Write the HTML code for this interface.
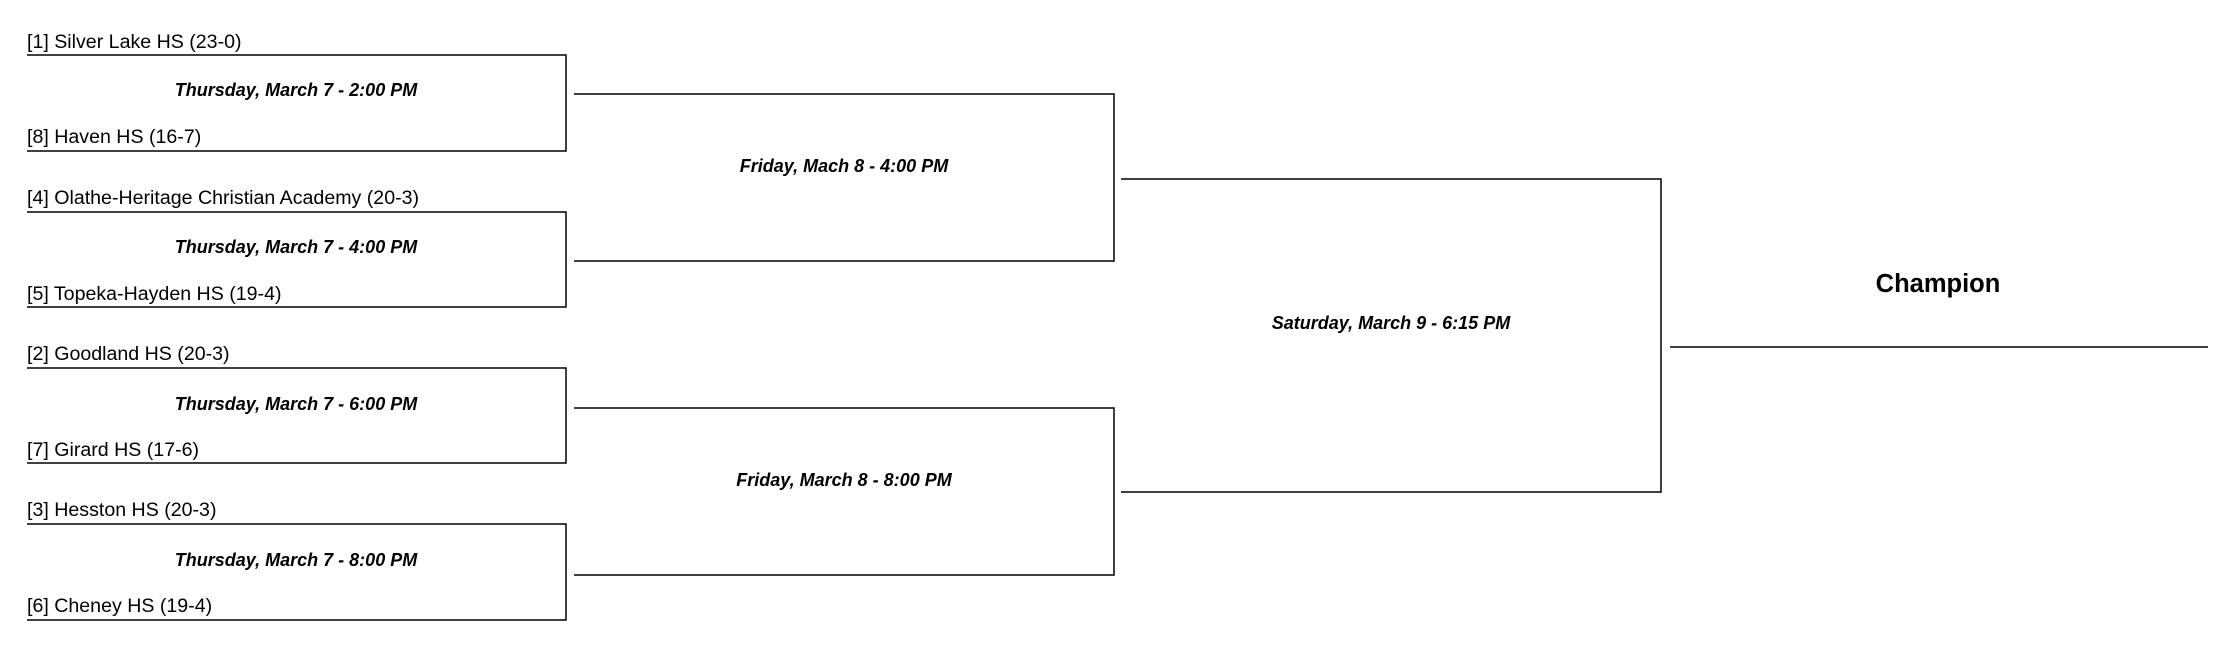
<!DOCTYPE html>
<html><head><style>
body{margin:0;background:#fff;width:2228px;height:646px;overflow:hidden}
svg{display:block}
text{font-family:"Liberation Sans",Arial,sans-serif;fill:#000}
.t{font-size:19.6px}
.d{font-size:18px;font-weight:bold;font-style:italic}
</style></head><body>
<svg width="2228" height="646" viewBox="0 0 2228 646">
<g fill="none" stroke="#000" stroke-width="1.5">
<path d="M27 55H566V151H27"/>
<path d="M27 212H566V307H27"/>
<path d="M27 368H566V463H27"/>
<path d="M27 524H566V620H27"/>
<path d="M574 94H1114V261H574"/>
<path d="M574 408H1114V575H574"/>
<path d="M1121 179H1661V492H1121"/>
<path d="M1670 347H2208"/>
</g>
<g class="t">
<text x="27" y="48">[1] Silver Lake HS (23-0)</text>
<text x="27" y="143">[8] Haven HS (16-7)</text>
<text x="27" y="204">[4] Olathe-Heritage Christian Academy (20-3)</text>
<text x="27" y="300">[5] Topeka-Hayden HS (19-4)</text>
<text x="27" y="360">[2] Goodland HS (20-3)</text>
<text x="27" y="456">[7] Girard HS (17-6)</text>
<text x="27" y="516">[3] Hesston HS (20-3)</text>
<text x="27" y="612">[6] Cheney HS (19-4)</text>
</g>
<g class="d" text-anchor="middle">
<text x="296" y="96">Thursday, March 7 - 2:00 PM</text>
<text x="296" y="253">Thursday, March 7 - 4:00 PM</text>
<text x="296" y="410">Thursday, March 7 - 6:00 PM</text>
<text x="296" y="566">Thursday, March 7 - 8:00 PM</text>
<text x="844" y="172">Friday, Mach 8 - 4:00 PM</text>
<text x="844" y="486">Friday, March 8 - 8:00 PM</text>
<text x="1391" y="329">Saturday, March 9 - 6:15 PM</text>
</g>
<text x="1938" y="292" text-anchor="middle" style="font-size:25.5px;font-weight:bold">Champion</text>
</svg>
</body></html>
